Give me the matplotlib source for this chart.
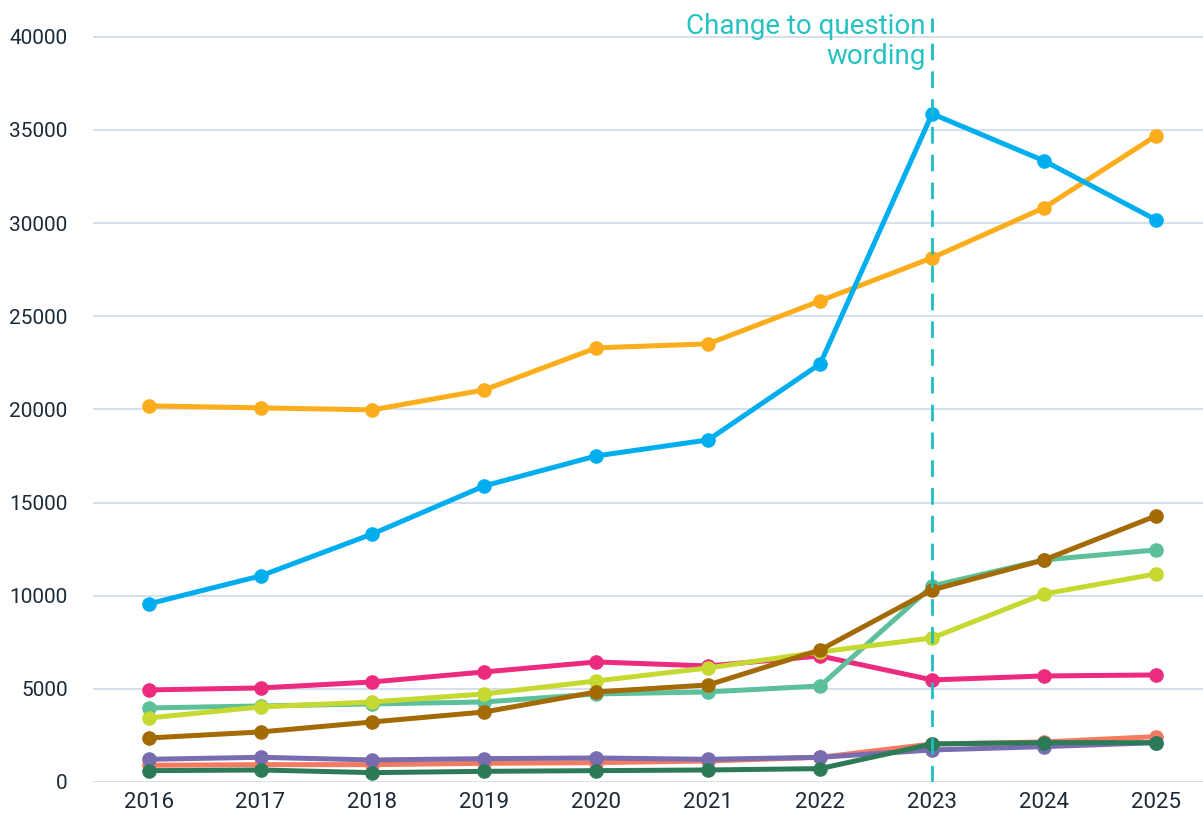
import matplotlib.pyplot as plt
import numpy as np

years = ["2016", "2017", "2018", "2019", "2020", "2021", "2022", "2023", "2024", "2025"]

pink = [4940, 5047, 5369, 5906, 6443, 6228, 6765, 5477, 5691, 5745]
teal = [3973, 4081, 4188, 4295, 4725, 4832, 5154, 10523, 11919, 12456]
lime = [3436, 4027, 4295, 4725, 5423, 6121, 6980, 7732, 10094, 11168]
brown = [2362, 2685, 3221, 3758, 4832, 5208, 7087, 10309, 11919, 14282]
salmon = [896, 930, 930, 1002, 1038, 1127, 1324, 2040, 2148, 2434]
purple = [1217, 1324, 1181, 1253, 1288, 1217, 1324, 1718, 1897, 2111]
dkgreen = [608, 644, 501, 572, 608, 644, 716, 2040, 2111, 2111]
orange = [20188, 20081, 19973, 21047, 23302, 23517, 25826, 28134, 30819, 34685]
blue = [9557, 11060, 13315, 15893, 17503, 18362, 22443, 35866, 33342, 30174]

series = [
    (pink, "#ec2a7e"),
    (teal, "#5cc09a"),
    (lime, "#c5d930"),
    (brown, "#a36a06"),
    (salmon, "#f47b60"),
    (purple, "#7a6cb0"),
    (dkgreen, "#2c7a57"),
    (orange, "#fbad1b"),
    (blue, "#00aeef"),
]

plt.rcParams["font.family"] = ["Roboto", "DejaVu Sans"]

fig = plt.figure(figsize=(12.03, 8.24), dpi=100)
ax = fig.add_axes([0.077, 0.051, 0.923, 0.927])

x = np.arange(len(years))
for vals, col in series:
    ax.plot(x, vals, color=col, lw=3.6, marker="o", ms=9.5, zorder=3,
            solid_capstyle="round")

# marks the survey wording change
ax.axvline(7, color="#1fbfbf", lw=2, ls=(0, (6, 4)), zorder=4)
ax.text(6.94, 41300, "Change to question\nwording", ha="right", va="top",
        color="#26c2c2", fontsize=20, linespacing=1.15)

ax.set_xlim(-0.5, 9.42)
ax.set_ylim(0, 41000)
ax.set_yticks(np.arange(0, 40001, 5000))
ax.set_xticks(x)
ax.set_xticklabels(years)
ax.yaxis.grid(True, color="#d3dde8", lw=1.3)
ax.set_axisbelow(True)
for s in ax.spines.values():
    s.set_visible(False)
ax.tick_params(length=0, colors="#1c2a38")
ax.tick_params(axis="y", pad=18, labelsize=15)
ax.tick_params(axis="x", pad=7, labelsize=16)

fig.savefig("out.png", dpi=100)
